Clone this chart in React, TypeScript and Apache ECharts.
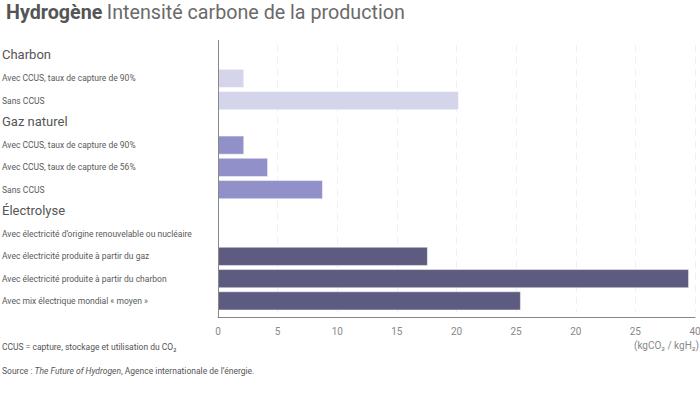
import React, { useEffect, useRef } from "react";
import * as echarts from "echarts";

const categories = [
  "Charbon",
  "Avec CCUS, taux de capture de 90%",
  "Sans CCUS",
  "Gaz naturel",
  "Avec CCUS, taux de capture de 90%",
  "Avec CCUS, taux de capture de 56%",
  "Sans CCUS",
  "Électrolyse",
  "Avec électricité d’origine renouvelable ou nucléaire",
  "Avec électricité produite à partir du gaz",
  "Avec électricité produite à partir du charbon",
  "Avec mix électrique mondial « moyen »",
];
const isHeader = [true, false, false, true, false, false, false, true, false, false, false, false];
const values: (number | null)[] = [null, 2.2, 20.2, null, 2.2, 4.2, 8.8, null, 0, 17.6, 39.5, 25.4];
const groupOf = [0, 0, 0, 1, 1, 1, 1, 2, 2, 2, 2, 2];
const groupColors = ["#d4d4ea", "#9190c8", "#5d5b80"];
const tickLabels = ["0", "5", "10", "15", "20", "25", "20", "25", "40"];

const FONT = "Roboto, 'Noto Sans', sans-serif";

export default function App() {
  const ref = useRef<HTMLDivElement>(null);
  useEffect(() => {
    if (!ref.current) return;
    const chart = echarts.init(ref.current, undefined, { renderer: "svg" });
    const idx = categories.map((_, i) => String(i));
    chart.setOption({
      animation: false,
      textStyle: { fontFamily: FONT },
      title: {
        text: "{b|Hydrogène} {r|Intensité carbone de la production}",
        left: 1,
        top: -3,
        textStyle: {
          fontWeight: "normal",
          rich: {
            b: { fontFamily: FONT, fontSize: 19.7, fontWeight: "bold", color: "#555" },
            r: { fontFamily: FONT, fontSize: 19.7, fontWeight: "normal", color: "#6a6a6a" },
          },
        },
      },
      grid: { left: 218, right: 5, top: 45, bottom: 82, containLabel: false, outerBoundsMode: "none" },
      xAxis: {
        type: "value",
        min: 0,
        max: 40,
        interval: 5,
        offset: 5,
        axisLine: { show: true, lineStyle: { color: "#888", width: 1 } },
        axisTick: { show: false },
        splitLine: { show: true, lineStyle: { color: "#f0f0f0", type: [7, 5], width: 1 } },
        axisLabel: {
          margin: 9,
          fontSize: 10,
          color: "#888",
          fontFamily: FONT,
          formatter: (v: number) => tickLabels[Math.round(v / 5)] ?? "",
        },
      },
      yAxis: {
        type: "category",
        inverse: true,
        data: idx,
        axisLine: { show: false },
        axisTick: { show: false },
        splitLine: { show: false },
        axisLabel: {
          align: "left",
          margin: 216,
          formatter: (_v: string, i: number) =>
            isHeader[i] ? `{h|${categories[i]}}` : `{s|${categories[i]}}`,
          rich: {
            h: { fontFamily: FONT, fontSize: 13, color: "#555", padding: [0, 0, 3, 0] },
            s: { fontFamily: FONT, fontSize: 8.5, color: "#5a5a5a" },
          },
        },
      },
      series: [
        {
          type: "bar",
          barCategoryGap: "14%",
          data: values.map((v, i) =>
            v === null
              ? "-"
              : {
                  value: v,
                  itemStyle: {
                    color: groupColors[groupOf[i]],
                    borderColor: "rgba(255,255,255,0.45)",
                    borderWidth: 1,
                  },
                }
          ),
        },
      ],
      graphic: [
        {
          type: "line",
          shape: { x1: 218.5, y1: 40, x2: 218.5, y2: 317 },
          style: { stroke: "#888", lineWidth: 1 },
          z: 10,
        },
        {
          type: "text",
          right: 1,
          top: 340,
          style: {
            text: "(kgCO₂ / kgH₂)",
            fontFamily: FONT,
            fontSize: 10,
            fill: "#888",
            textAlign: "right",
          },
        },
        {
          type: "text",
          left: 2,
          top: 342,
          style: {
            text: "CCUS = capture, stockage et utilisation du CO₂",
            fontFamily: FONT,
            fontSize: 8.5,
            fill: "#555",
          },
        },
        {
          type: "text",
          left: 2,
          top: 366,
          style: {
            text: "Source : {i|The Future of Hydrogen}, Agence internationale de l’énergie.",
            fontFamily: FONT,
            fontSize: 8.5,
            fill: "#555",
            rich: {
              i: { fontFamily: FONT, fontSize: 8.5, fontStyle: "italic", fill: "#555" },
            },
          },
        },
      ],
    });
    return () => chart.dispose();
  }, []);
  return (
    <div
      ref={ref}
      style={{ position: "absolute", left: 0, top: 0, width: 700, height: 394, background: "#fff" }}
    />
  );
}
